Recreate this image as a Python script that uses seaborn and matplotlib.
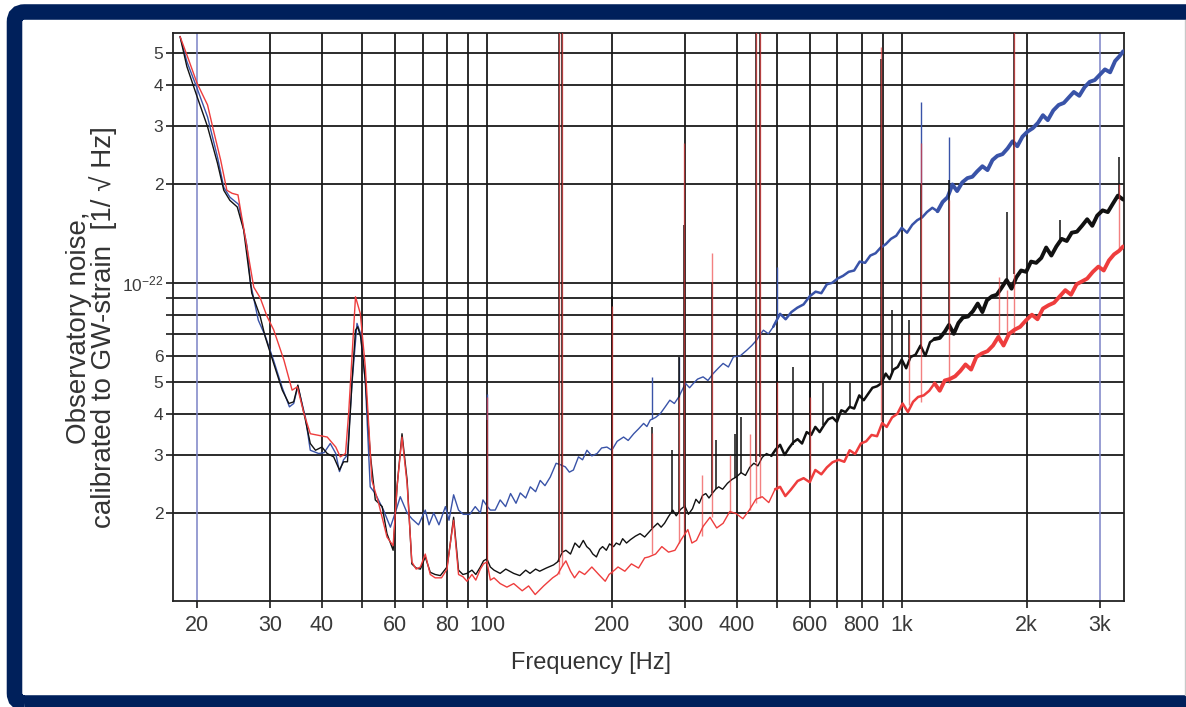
import numpy as np
import pandas as pd
import matplotlib
matplotlib.use('Agg')
import matplotlib.pyplot as plt
import seaborn as sns
from matplotlib.patches import FancyBboxPatch
from matplotlib.lines import Line2D
from matplotlib.ticker import NullLocator
from matplotlib.transforms import IdentityTransform

# Strain noise spectra, values in units of 1e-23 / sqrt(Hz): [frequency Hz, value]
blue = np.array([
    [18.2, 56], [18.9, 47], [20.0, 39], [21.2, 31.9], [22.4, 24.1], [23.2, 19.5], [24.0, 18.2],
    [25.2, 17.3], [26.4, 12.9], [26.9, 10.0], [28.1, 7.7], [29.2, 6.9], [30.6, 5.8], [32.1, 4.8],
    [33.4, 4.2], [34.2, 4.3], [35.0, 4.85], [36.5, 3.9], [37.5, 3.10], [39.3, 3.03], [40.5, 3.05],
    [41.9, 3.25], [43.2, 3.03], [44.1, 2.67], [45.1, 2.90], [46.1, 3.0], [47.3, 5.0], [48.6, 7.53],
    [49.6, 7.0], [50.9, 5.0], [52.3, 2.40], [53.8, 2.29], [56.3, 2.04], [58.5, 1.81], [60.4, 2.04],
    [61.8, 2.24], [64.2, 2.00], [65.9, 1.92], [68.4, 1.84], [71.0, 2.04], [72.5, 1.84], [74.4, 2.00],
    [76.6, 1.84], [79.4, 2.09], [81.0, 1.90], [83.1, 2.27], [85.4, 2.04], [87.7, 1.98], [90.9, 1.98],
    [93.7, 2.09], [96.4, 2.00], [97.8, 2.19], [100.0, 2.10], [101.9, 2.04], [104.7, 2.04],
    [107.6, 2.19], [110.9, 2.09], [114.0, 2.29], [117.5, 2.14], [120.3, 2.30], [124, 2.22],
    [127.2, 2.40], [131, 2.32], [134.4, 2.51], [138, 2.42], [142.1, 2.57], [146.8, 2.83],
    [150.5, 2.80], [154.5, 2.76], [158, 2.66], [161.6, 2.70], [166.2, 2.96], [170, 2.90],
    [174.2, 3.10], [179, 2.98], [184.3, 3.03], [189, 3.15], [194.6, 3.17], [200, 3.10], [206, 3.30],
    [213.5, 3.40], [219, 3.32], [225.9, 3.48], [232, 3.60], [238.6, 3.74], [243, 3.66], [247.6, 3.83],
    [255, 3.90], [262, 4.01], [269, 4.20], [276, 4.40], [283, 4.30], [290, 4.50], [301, 4.95],
    [308, 4.80], [314.6, 4.95], [322, 5.10], [332, 5.18], [341, 5.05], [351, 5.30], [361, 5.50],
    [371, 5.69], [382, 5.55], [393, 5.96], [408, 6.00], [423, 6.24], [435, 6.45], [447, 6.70],
    [455, 6.95], [464, 7.18], [477, 7.00], [490, 7.35],
    [509, 8.05], [525, 7.75], [542, 8.15], [560, 8.40], [580, 8.60], [600, 9.10], [620, 9.40],
    [640, 9.30], [660, 9.90], [680, 10.0], [700, 10.3], [722, 10.5], [745, 10.8], [768, 10.9],
    [792, 11.6], [816, 11.5], [840, 12.1], [865, 12.3], [890, 12.8], [915, 13.1], [942, 13.6],
    [970, 13.9], [1000, 14.7], [1030, 14.2], [1060, 15.0], [1090, 15.5], [1120, 15.8], [1150, 16.4],
    [1185, 16.9], [1220, 16.5], [1255, 17.6], [1290, 18.2], [1325, 19.9], [1360, 19.0], [1400, 20.2],
    [1440, 20.8], [1480, 21.0], [1520, 21.8], [1565, 22.6], [1610, 22.0], [1655, 23.6], [1700, 24.3],
    [1750, 24.6], [1800, 25.6], [1850, 26.9], [1900, 26.0], [1955, 27.8], [2010, 28.8], [2070, 29.5],
    [2130, 30.6], [2190, 32.3], [2250, 31.2], [2320, 33.4], [2390, 34.7], [2460, 35.2], [2530, 36.6],
    [2600, 38.0], [2680, 37.0], [2760, 39.3], [2840, 40.8], [2920, 41.3], [3000, 42.8], [3090, 44.5],
    [3180, 43.6], [3270, 47.2], [3350, 48.8], [3420, 50.5],
])

black = np.array([
    [18.2, 56], [18.9, 45.4], [20.0, 36.8], [21.2, 29.8], [22.4, 23.1], [23.2, 19.1], [24.0, 17.8],
    [25.0, 17.0], [25.9, 14.5], [27.1, 9.3], [28.4, 7.9], [29.2, 6.85], [30.6, 5.69], [32.1, 4.72],
    [33.3, 4.30], [34.2, 4.35], [35.0, 4.89], [36.5, 3.83], [37.5, 3.25], [38.6, 3.10], [40.0, 3.17],
    [41.2, 3.03], [42.7, 2.96], [44.1, 2.70], [45.1, 2.86], [46.1, 2.86], [47.3, 5.06], [48.2, 7.18],
    [48.8, 7.35], [49.6, 6.85], [50.9, 5.06], [52.3, 3.03], [53.8, 2.19], [55.9, 2.09], [57.4, 1.73],
    [59.4, 1.54], [60.7, 2.40], [62.4, 3.48], [64.2, 2.51], [65.9, 1.40], [67.5, 1.36], [69.1, 1.35],
    [71.0, 1.47], [73.0, 1.32], [75.0, 1.30], [77.2, 1.29], [80.1, 1.37], [81.5, 1.60], [83.1, 1.94],
    [85.4, 1.34], [87.5, 1.30], [89.5, 1.31], [92, 1.34], [94, 1.30], [96.4, 1.37], [98.1, 1.43],
    [100.0, 1.45], [101.9, 1.37], [104, 1.34], [107.6, 1.31], [111, 1.35], [116, 1.31], [120, 1.29],
    [124, 1.34], [127, 1.31], [131, 1.35], [134, 1.33], [139, 1.36], [144.7, 1.39], [148, 1.42],
    [152, 1.52], [155, 1.54], [159, 1.50], [163, 1.62], [167, 1.57], [170.7, 1.65], [174, 1.58],
    [177, 1.55], [180, 1.50], [183.6, 1.47], [187, 1.55], [190, 1.58], [194, 1.54], [197.5, 1.61],
    [202, 1.58], [205, 1.62], [209, 1.60], [212.4, 1.67], [217, 1.62], [222, 1.66], [228, 1.70],
    [234, 1.73], [240, 1.69], [245, 1.74], [251, 1.80], [257.9, 1.86], [263, 1.81], [268, 1.86],
    [274, 1.95], [280.6, 2.04], [286, 1.96], [293, 2.05], [300, 2.10], [306, 1.98], [313, 2.06],
    [319, 2.20], [325, 2.14], [331, 2.26], [337, 2.29], [343, 2.22], [350, 2.30], [356, 2.36],
    [362, 2.40], [370, 2.36], [380, 2.46], [390, 2.53], [399, 2.57], [410, 2.65], [420, 2.60],
    [430, 2.75], [440, 2.83], [450, 2.78], [461, 2.95], [472, 3.03], [485, 2.98], [497, 3.12],
    [509, 3.22], [522, 3.00], [535, 3.15], [548, 3.28], [561, 3.35], [575, 3.25], [590, 3.52],
    [605, 3.45], [619, 3.65], [634, 3.52], [650, 3.70], [665, 3.85], [681, 3.90], [698, 3.78],
    [715, 4.10], [732, 4.05], [749, 4.20], [768, 4.15], [790, 4.55], [810, 4.40], [830, 4.60],
    [850, 4.80], [872, 4.85], [893, 4.95], [915, 5.30], [935, 5.10], [955, 5.45], [978, 5.55],
    [1000, 5.85], [1025, 5.50], [1050, 5.95], [1080, 6.05], [1110, 6.45], [1140, 6.00], [1170, 6.60],
    [1200, 6.75], [1235, 6.80], [1270, 7.10], [1300, 7.45], [1335, 7.00], [1370, 7.55], [1405, 7.85],
    [1445, 7.90], [1485, 8.20], [1525, 8.65], [1565, 8.15], [1605, 8.85], [1650, 9.10], [1695, 9.20],
    [1740, 9.65], [1790, 10.2], [1840, 9.60], [1890, 10.4], [1940, 10.9], [1995, 10.8], [2050, 11.6],
    [2110, 11.5], [2170, 11.9], [2230, 12.8], [2295, 12.1], [2360, 12.9], [2430, 13.6], [2500, 13.4],
    [2570, 14.2], [2645, 14.3], [2720, 14.9], [2800, 15.6], [2880, 14.9], [2960, 16.0], [3050, 16.6],
    [3140, 16.4], [3230, 17.4], [3320, 18.4], [3420, 17.9],
])

red = np.array([
    [18.2, 56], [19.1, 47.5], [20.0, 40.4], [21.2, 34.7], [21.9, 29.1], [22.8, 23.6], [23.6, 19.1],
    [24.3, 18.7], [25.1, 18.5], [27.4, 9.7], [28.4, 9.0], [29.5, 7.9], [30.6, 7.2], [32.4, 5.82],
    [33.9, 4.72], [34.9, 4.83], [36.2, 4.01], [37.5, 3.48], [39.3, 3.44], [41.2, 3.40], [43.2, 3.17],
    [44.3, 2.96], [45.6, 3.03], [46.4, 4.01], [48.2, 9.07], [49.5, 8.07], [50.9, 5.56], [52.8, 2.51],
    [54.8, 2.14], [57.4, 1.69], [59.4, 1.59], [60.7, 2.40], [62.4, 3.40], [64.2, 2.45], [65.9, 1.42],
    [67.5, 1.35], [69.1, 1.37], [71.0, 1.50], [73.0, 1.30], [75.0, 1.27], [77.7, 1.27], [80.1, 1.35],
    [81.5, 1.60], [83.1, 1.90], [85.4, 1.30], [87.5, 1.28], [89.5, 1.24], [92, 1.30], [94, 1.25],
    [96.4, 1.35], [98.1, 1.40], [100.0, 1.42], [101.9, 1.25], [104, 1.27], [107.6, 1.22],
    [111.7, 1.19], [116, 1.22], [121.6, 1.16], [126, 1.20], [130.7, 1.13], [137, 1.20], [144, 1.27],
    [148, 1.30], [152, 1.38], [155, 1.43], [159, 1.33], [162.6, 1.27], [167, 1.33], [172, 1.30],
    [179, 1.37], [186, 1.30], [192.8, 1.24], [197, 1.30], [203, 1.34], [207, 1.37], [215, 1.33],
    [223, 1.40], [232, 1.36], [240, 1.46], [245.4, 1.47], [255, 1.50], [264, 1.58], [274, 1.52],
    [284, 1.54], [294, 1.66], [305, 1.78], [312, 1.62], [320, 1.65], [332, 1.82], [345, 1.94],
    [358, 1.80], [371, 1.86], [385, 2.02], [399, 1.99], [414, 1.92], [429, 2.04], [445, 2.20],
    [461, 2.24], [478, 2.15], [495, 2.36],
    [509, 2.40], [524, 2.25], [540, 2.35], [561, 2.50], [580, 2.55], [600, 2.48], [619, 2.70],
    [640, 2.62], [660, 2.75], [681, 2.85], [705, 2.90], [727, 2.86], [749, 3.10], [772, 3.02],
    [797, 3.25], [821, 3.30], [846, 3.45], [872, 3.42], [897, 3.75], [920, 3.65], [948, 3.90],
    [976, 4.00], [1005, 4.30], [1035, 4.05], [1065, 4.35], [1095, 4.50], [1130, 4.55], [1165, 4.70],
    [1200, 4.95], [1235, 4.70], [1270, 5.05], [1305, 5.10], [1345, 5.20], [1385, 5.40], [1425, 5.65],
    [1470, 5.45], [1513, 5.95], [1560, 6.10], [1610, 6.20], [1660, 6.45], [1710, 6.85], [1760, 6.45],
    [1815, 7.00], [1870, 7.20], [1930, 7.35], [1995, 7.70], [2060, 8.00], [2125, 7.75], [2190, 8.35],
    [2260, 8.55], [2330, 8.70], [2405, 9.10], [2480, 9.50], [2560, 9.20], [2640, 9.90], [2720, 10.1],
    [2800, 10.3], [2890, 10.8], [2980, 11.2], [3070, 10.9], [3160, 11.7], [3250, 12.2], [3340, 12.5],
    [3420, 12.9],
])

# narrow spectral lines: [frequency, base, top]
blue_lines = np.array([
    [100, 2.10, 4.61], [250, 3.85, 5.18], [291, 4.50, 5.96], [499, 7.80, 11.2],
    [1110, 15.8, 35.5], [1300, 19.5, 27.8],
])
black_lines = np.array([
    [100, 1.45, 3.83], [148.8, 1.42, 80], [151.5, 1.52, 80], [200, 1.60, 9.1], [250, 1.80, 3.65],
    [279, 2.0, 3.10], [291, 2.0, 5.96], [298.5, 2.10, 15.0], [348, 2.30, 10.0], [356, 2.36, 3.33],
    [396, 2.55, 3.48], [410, 2.65, 3.92], [445, 2.85, 80], [456, 2.95, 80], [499, 3.10, 6.0],
    [548, 3.22, 5.56], [600, 3.50, 5.82], [647, 3.70, 4.95], [749, 4.20, 4.95], [893, 4.90, 48],
    [947, 5.35, 8.26], [1044, 5.90, 7.7], [1110, 6.30, 20], [1300, 7.30, 20.5], [1790, 10.0, 16.4],
    [1868, 10.6, 80], [2403, 13.2, 15.5], [3350, 18.0, 24.1],
])
red_lines = np.array([
    [100, 1.42, 4.5], [148.8, 1.30, 80], [151.5, 1.38, 80], [200, 1.30, 8.5], [250, 1.50, 3.5],
    [291, 1.62, 4.5], [298.5, 1.72, 26.6], [330, 1.70, 2.6], [348, 1.94, 12.3], [385, 2.00, 3.0],
    [430, 2.04, 3.48], [445, 2.15, 80], [456, 2.22, 80], [499, 2.35, 5.0], [600, 2.48, 4.5],
    [893, 3.80, 52], [1044, 4.25, 7.0], [1110, 4.35, 26.6], [1300, 4.95, 17.8], [1720, 6.6, 10.4],
    [1790, 6.8, 9.5], [1868, 7.0, 80], [3350, 12.8, 20.0],
])

x_ticks = [20, 30, 40, 50, 60, 70, 80, 90, 100, 200, 300, 400, 500, 600, 700, 800, 900, 1000, 2000, 3000]
x_labels = ['20', '30', '40', '', '60', '', '80', '', '100', '200', '300', '400', '', '600', '',
            '800', '', '1k', '2k', '3k']
y_ticks = [2, 3, 4, 5, 6, 7, 8, 9, 10, 20, 30, 40, 50]
y_labels = ['2', '3', '4', '5', '6', '', '', '', r'$\mathregular{10^{-22}}$', '2', '3', '4', '5']

colors = {'blue': '#3953a8', 'black': '#111111', 'red': '#ee3d3d'}

sns.set_theme(style='white')
plt.rcParams['font.family'] = ['Liberation Sans', 'DejaVu Sans']
plt.rcParams['mathtext.fontset'] = 'custom'
plt.rcParams['mathtext.rm'] = 'Liberation Sans'

df = pd.concat([
    pd.DataFrame({'freq': d[:, 0], 'asd': d[:, 1], 'ifo': name})
    for name, d in [('blue', blue), ('black', black), ('red', red)]
], ignore_index=True)

fig = plt.figure(figsize=(11.86, 7.07), dpi=100)
ax = fig.add_axes([0.14587, 0.14993, 0.80185, 0.80339])
ax.set_xscale('log')
ax.set_yscale('log')

# grid drawn by hand: black lines, blue ones at 20 Hz and 3 kHz
for f in x_ticks[1:-1]:
    ax.axvline(f, color='k', lw=1.3, zorder=1)
for v in y_ticks:
    ax.axhline(v, color='k', lw=1.3, zorder=1)
for f in [20, 3000]:
    ax.axvline(f, color='#7b83c6', lw=1.1, zorder=1)

# the spectra get denser (and look thicker) at high frequency
bands = [(0, 520, 1.0), (480, 1250, 1.8), (1200, 5000, 2.8)]
for lo, hi, lw in bands:
    part = df[(df.freq >= lo) & (df.freq <= hi)]
    sns.lineplot(data=part, x='freq', y='asd', hue='ifo', hue_order=['blue', 'black', 'red'],
                 palette=colors, estimator=None, sort=False, lw=lw, legend=False, ax=ax, zorder=3)

ax.vlines(blue_lines[:, 0], blue_lines[:, 1], blue_lines[:, 2], colors=colors['blue'], lw=1.0, zorder=3)
ax.vlines(black_lines[:, 0], black_lines[:, 1], black_lines[:, 2], colors=colors['black'], lw=1.1, zorder=4)
ax.vlines(red_lines[:, 0], red_lines[:, 1], red_lines[:, 2], colors=colors['red'], lw=1.0, alpha=0.65, zorder=5)

ax.set_xlim(17.5, 3435)
ax.set_ylim(1.08, 57.4)
ax.set_xticks(x_ticks, x_labels)
ax.set_yticks(y_ticks, y_labels)
ax.xaxis.set_minor_locator(NullLocator())
ax.yaxis.set_minor_locator(NullLocator())
ax.tick_params(axis='both', direction='out', length=5, width=1.2, color='k', labelcolor='#3a3a3a')
ax.tick_params(axis='x', labelsize=15.5, pad=5)
ax.tick_params(axis='y', labelsize=12.5, pad=2)
ax.tick_params(left=True, bottom=True)
for s in ax.spines.values():
    s.set_color('#222222')
    s.set_linewidth(1.3)

ax.set_xlabel('Frequency [Hz]', fontsize=17, color='#333333', va='center')
ax.xaxis.set_label_coords(0.44, -0.109)
ax.set_ylabel('Observatory noise,\ncalibrated to GW-strain  [1/ √ Hz]', fontsize=20,
              color='#333333', va='center', linespacing=0.85)
ax.yaxis.set_label_coords(-0.0857, 0.482)

# navy frame around the picture (open on the right side)
frame = FancyBboxPatch((14.5, 4), 1250, 691, boxstyle='round,pad=0,rounding_size=10',
                       lw=11.2, ec='#00205b', fc='none', transform=IdentityTransform())
fig.add_artist(frame)
fig.add_artist(Line2D([1184.5, 1184.5], [12, 687], color='#c8c8c8', lw=1, transform=IdentityTransform()))

fig.savefig('out.png', dpi=100)
